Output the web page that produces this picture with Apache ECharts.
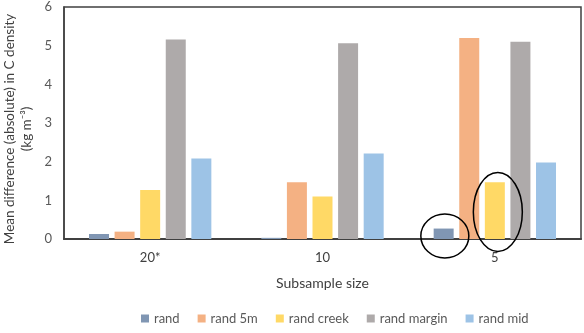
<!DOCTYPE html>
<html>
<head>
<meta charset="utf-8">
<script src="https://cdn.jsdelivr.net/npm/echarts@6/dist/echarts.min.js"></script>
<style>
  html, body { margin: 0; padding: 0; background: #fff; }
  #chart { width: 584px; height: 333px; }
</style>
</head>
<body>
<div id="chart"></div>
<script>
// subsample sizes on the x axis
const categories = ['20*', '10', '5']
const seriesNames = ['rand', 'rand 5m', 'rand creek', 'rand margin', 'rand mid']
const colors = ['#8096b3', '#f4b183', '#ffd966', '#aeaaaa', '#9dc3e6']

// mean difference values
const rand = [0.13, 0.03, 0.27]
const rand5m = [0.19, 1.47, 5.20]
const randCreek = [1.27, 1.10, 1.47]
const randMargin = [5.16, 5.06, 5.10]
const randMid = [2.08, 2.21, 1.98]

const yTicks = [0, 1, 2, 3, 4, 5, 6]
const yTitle = 'Mean difference (absolute) in C density\n(kg m\u207B\u00B3)'

const font = 'Lato, "Open Sans", sans-serif'
const textColor = '#595959'

const chart = echarts.init(document.getElementById('chart'))

const series = [rand, rand5m, randCreek, randMargin, randMid].map((data, i) => ({
  name: seriesNames[i],
  type: 'bar',
  data: data,
  barGap: '28%',
  barCategoryGap: '29%',
  itemStyle: { color: colors[i] },
  animation: false
}))

chart.setOption({
  textStyle: { fontFamily: font },
  grid: {
    left: 64,
    right: 3,
    top: 7,
    bottom: 94,
    show: true,
    borderColor: '#404040',
    borderWidth: 1.5
  },
  legend: {
    bottom: 3,
    left: 136,
    itemWidth: 8,
    itemHeight: 8,
    itemGap: 18,
    icon: 'rect',
    textStyle: { fontFamily: font, fontSize: 13, color: textColor },
    data: seriesNames
  },
  xAxis: {
    type: 'category',
    data: categories,
    axisLine: { lineStyle: { color: '#404040', width: 2 } },
    axisTick: { show: false },
    axisLabel: { fontSize: 13, color: '#404040', margin: 12 },
    name: 'Subsample size',
    nameLocation: 'middle',
    nameGap: 37,
    nameTextStyle: { fontSize: 14, color: '#404040', fontFamily: font }
  },
  yAxis: {
    type: 'value',
    min: yTicks[0],
    max: yTicks[yTicks.length - 1],
    interval: 1,
    splitLine: { show: false },
    axisLine: { show: true, lineStyle: { color: '#404040', width: 1.5 } },
    axisTick: { show: false },
    axisLabel: { fontSize: 13, color: textColor, margin: 12 }
  },
  series: series
})

// y title as a rotated two-line text (lines centred like the original),
// plus the hand-drawn annotation ellipses around the size-5 bars
const p = chart.convertToPixel({ xAxisIndex: 0, yAxisIndex: 0 }, ['5', 0])
const q = chart.convertToPixel({ xAxisIndex: 0, yAxisIndex: 0 }, ['5', 0.7])
chart.setOption({
  graphic: [
    {
      type: 'text',
      x: 18,
      y: 129,
      rotation: Math.PI / 2,
      style: {
        text: yTitle,
        align: 'center',
        verticalAlign: 'middle',
        fontFamily: font,
        fontSize: 13.5,
        lineHeight: 17,
        fill: '#404040'
      }
    },
    {
      type: 'ellipse',
      shape: { cx: p[0] - 50, cy: p[1] - 3, rx: 24, ry: 22 },
      style: { fill: 'none', stroke: '#000', lineWidth: 1.5 },
      z: 100
    },
    {
      type: 'ellipse',
      shape: { cx: q[0] + 3, cy: q[1], rx: 24.5, ry: 39.5 },
      style: { fill: 'none', stroke: '#000', lineWidth: 1.5 },
      z: 100
    }
  ]
})
</script>
</body>
</html>
